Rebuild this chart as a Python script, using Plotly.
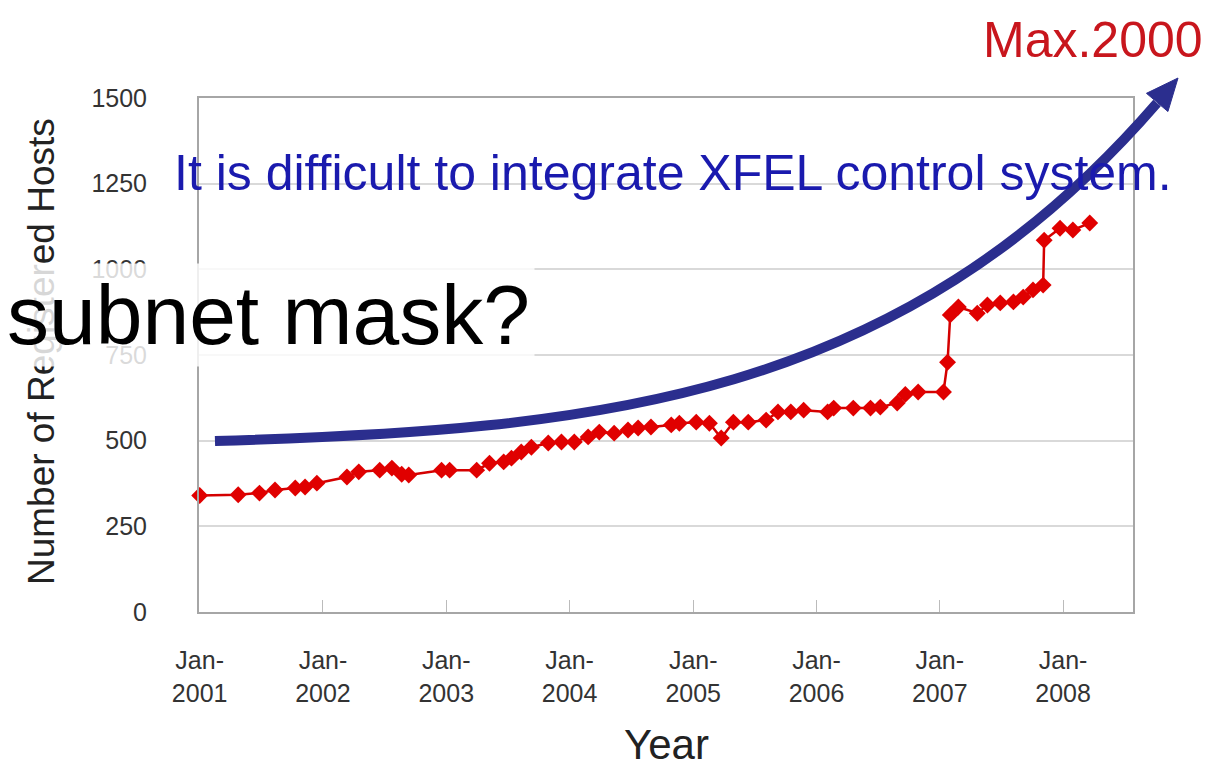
import plotly.graph_objects as go

# ---- data ----
dates = [
    "2001-01-01", "2001-04-25", "2001-06-27", "2001-08-12", "2001-10-11", "2001-11-09",
    "2001-12-14", "2002-03-13", "2002-04-17", "2002-06-18", "2002-07-24", "2002-08-22",
    "2002-09-12", "2002-12-18", "2003-01-11", "2003-04-01", "2003-05-09", "2003-06-20",
    "2003-07-13", "2003-08-11", "2003-09-10", "2003-10-30", "2003-12-08", "2004-01-15",
    "2004-02-25", "2004-03-29", "2004-05-12", "2004-06-22", "2004-07-22", "2004-08-29",
    "2004-10-28", "2004-11-21", "2005-01-10", "2005-02-18", "2005-03-25", "2005-04-30",
    "2005-06-13", "2005-08-05", "2005-09-09", "2005-10-17", "2005-11-24", "2006-02-03",
    "2006-02-21", "2006-04-20", "2006-06-10", "2006-07-09", "2006-08-28", "2006-09-21",
    "2006-10-29", "2007-01-12", "2007-01-24", "2007-02-01", "2007-02-25", "2007-04-22",
    "2007-05-22", "2007-06-29", "2007-08-07", "2007-09-05", "2007-10-04", "2007-11-03",
    "2007-11-06", "2007-12-23", "2008-01-30", "2008-03-20",
]
hosts = [
    340, 342, 347, 356, 362, 365,
    376, 394, 409, 414, 420, 402,
    400, 414, 414, 414, 434, 438,
    449, 467, 481, 493, 496, 496,
    511, 525, 522, 531, 537, 540,
    546, 551, 554, 551, 508, 554,
    554, 560, 584, 584, 589, 584,
    595, 595, 595, 598, 610, 635,
    642, 642, 729, 867, 890, 872,
    896, 902, 905, 919, 940, 954,
    1085, 1120, 1115, 1135,
]
tick_years = [2001, 2002, 2003, 2004, 2005, 2006, 2007, 2008]
tick_vals = [f"{y}-01-01" for y in tick_years]
tick_text = [f"Jan-<br>{y}" for y in tick_years]
y_ticks = [0, 250, 500, 750, 1000, 1250, 1500]

FONT = "Liberation Sans, Arial, sans-serif"
NAVY = "#2B2E8E"

fig = go.Figure()
fig.add_trace(go.Scatter(
    x=dates, y=hosts, mode="lines+markers",
    line=dict(color="#D40000", width=2.5),
    marker=dict(symbol="diamond", size=13, color="#E00000"),
    cliponaxis=False, showlegend=False,
))

# curved trend arrow (decoration, paper coordinates)
fig.add_shape(type="path", xref="paper", yref="paper",
              path="M 0.0171 0.3327 C 0.4293 0.3541, 0.7505 0.4125, 1.0257 0.9903",
              line=dict(color=NAVY, width=10))
fig.add_shape(type="path", xref="paper", yref="paper",
              path="M 1.0482 1.0389 L 1.0374 0.9737 L 1.0144 1.0091 Z",
              fillcolor=NAVY, line=dict(color=NAVY, width=1))

# axis titles placed as text annotations
fig.add_annotation(text="Number of Registered Hosts", xref="paper", yref="paper",
                   x=-0.168, y=0.506, xanchor="center", yanchor="middle",
                   textangle=-90, showarrow=False,
                   font=dict(family=FONT, size=37, color="#222222"))
fig.add_annotation(text="Year", xref="paper", yref="paper",
                   x=0.5, y=-0.258, xanchor="center", yanchor="middle",
                   showarrow=False, font=dict(family=FONT, size=42, color="#222222"))

fig.add_annotation(text="Max.2000", xref="paper", yref="paper",
                   x=1.077, y=1.113, xanchor="right", yanchor="middle",
                   showarrow=False, font=dict(family=FONT, size=50, color="#C8161D"))
fig.add_annotation(text="It is difficult to integrate XFEL control system.",
                   xref="paper", yref="paper", x=0.5075, y=0.854,
                   xanchor="center", yanchor="middle", showarrow=False,
                   font=dict(family=FONT, size=50, color="#1A1AAE"))
fig.add_annotation(text="subnet mask?", xref="paper", yref="paper",
                   x=-0.211, y=0.578, xanchor="left", yanchor="middle",
                   showarrow=False, bgcolor="rgba(255,255,255,0.82)",
                   borderpad=4,
                   font=dict(family=FONT, size=84, color="#000000"))

fig.update_layout(
    width=1214, height=759,
    margin=dict(l=191, r=89, t=90, b=155),
    paper_bgcolor="white", plot_bgcolor="white",
    font=dict(family=FONT, color="#333333"),
    xaxis=dict(
        type="date", range=["2000-12-30", "2008-07-26"],
        tickvals=tick_vals, ticktext=tick_text,
        tickfont=dict(size=25, color="#333333"),
        ticks="inside", ticklen=12, tickcolor="#bbbbbb",
        showgrid=False, showline=True, linecolor="#a6a6a6", linewidth=2, mirror=True,
        ticklabelstandoff=25, automargin=False,
    ),
    yaxis=dict(
        range=[0, 1500], tickvals=y_ticks,
        tickfont=dict(size=25, color="#333333"),
        showgrid=True, gridcolor="#d9d9d9", gridwidth=2,
        showline=True, linecolor="#a6a6a6", linewidth=2, mirror=True,
        zeroline=False,
        ticklabelstandoff=45, automargin=False,
    ),
)

fig.write_html("out.html")
